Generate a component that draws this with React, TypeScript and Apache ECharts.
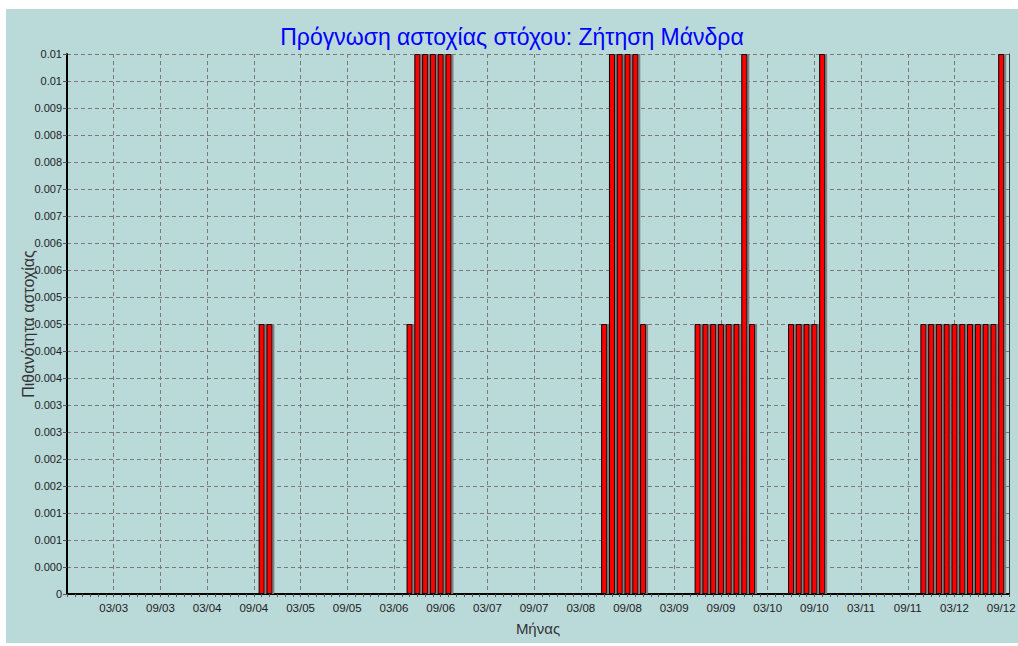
import React, { useEffect, useRef } from "react";
import * as echarts from "echarts";

const TITLE = "Πρόγνωση αστοχίας στόχου: Ζήτηση Μάνδρα";
const X_NAME = "Μήνας";
const Y_NAME = "Πιθανότητα αστοχίας";

// Monthly axis: Sep 2002 .. Oct 2012
const FIRST_YEAR = 2002;
const FIRST_MONTH = 9;
const MONTH_COUNT = 122;

// Failure probability per month, one row per year
const prob2002 = [0, 0, 0, 0]; // Sep..Dec
const prob2003 = [0, 0, 0, 0, 0, 0, 0, 0, 0, 0, 0, 0];
const prob2004 = [0, 0, 0, 0, 0, 0, 0, 0, 0, 0.005, 0.005, 0];
const prob2005 = [0, 0, 0, 0, 0, 0, 0, 0, 0, 0, 0, 0];
const prob2006 = [0, 0, 0, 0, 0.005, 0.01, 0.01, 0.01, 0.01, 0.01, 0, 0];
const prob2007 = [0, 0, 0, 0, 0, 0, 0, 0, 0, 0, 0, 0];
const prob2008 = [0, 0, 0, 0, 0, 0.005, 0.01, 0.01, 0.01, 0.01, 0.005, 0];
const prob2009 = [0, 0, 0, 0, 0, 0.005, 0.005, 0.005, 0.005, 0.005, 0.005, 0.01];
const prob2010 = [0.005, 0, 0, 0, 0, 0.005, 0.005, 0.005, 0.005, 0.01, 0, 0];
const prob2011 = [0, 0, 0, 0, 0, 0, 0, 0, 0, 0, 0.005, 0.005];
const prob2012 = [0.005, 0.005, 0.005, 0.005, 0.005, 0.005, 0.005, 0.005, 0.01, 0]; // Jan..Oct

const probabilities = [
  ...prob2002, ...prob2003, ...prob2004, ...prob2005, ...prob2006, ...prob2007,
  ...prob2008, ...prob2009, ...prob2010, ...prob2011, ...prob2012,
];

// Value-axis tick labels, bottom to top (step 0.0005)
const yTickLabels = [
  "0", "0.000", "0.001", "0.001", "0.002", "0.002", "0.003", "0.003", "0.004", "0.004",
  "0.005", "0.005", "0.006", "0.006", "0.007", "0.007", "0.008", "0.008", "0.009", "0.01", "0.01",
];
const Y_STEP = 0.0005;
const Y_MAX = 0.01;

const months: string[] = [];
for (let i = 0; i < MONTH_COUNT; i++) {
  const m0 = FIRST_MONTH - 1 + i;
  const y = FIRST_YEAR + Math.floor(m0 / 12);
  const m = (m0 % 12) + 1;
  months.push(String(m).padStart(2, "0") + "/" + String(y % 100).padStart(2, "0"));
}

const BG = "#BAD9D9";
const FONT = "'Liberation Sans', Arial, sans-serif";
const GRID_LINE = { color: "#7a7a7a", width: 1, type: [4, 3] as number[] };

export default function App() {
  const ref = useRef<HTMLDivElement>(null);

  useEffect(() => {
    if (!ref.current) return;
    const chart = echarts.init(ref.current, undefined, { renderer: "svg" });
    const showEvery6 = (i: number) => i > 0 && i % 6 === 0;
    chart.setOption({
      animation: false,
      backgroundColor: BG,
      title: {
        text: TITLE,
        left: 501,
        textAlign: "center",
        top: 11,
        textStyle: { color: "#0000ff", fontSize: 23, fontWeight: "normal", fontFamily: FONT },
      },
      grid: {
        left: 61,
        top: 45,
        width: 942,
        height: 540,
        containLabel: false,
        outerBoundsMode: "none",
      },
      xAxis: {
        type: "category",
        data: months,
        boundaryGap: false,
        name: X_NAME,
        nameLocation: "middle",
        nameGap: 27,
        nameTextStyle: { color: "#333", fontSize: 15, fontFamily: FONT },
        axisLine: { show: true, lineStyle: { color: "#000", width: 2 } },
        axisTick: { show: true, interval: 0, length: 3, lineStyle: { color: "#555" } },
        axisLabel: {
          interval: showEvery6,
          color: "#222",
          fontSize: 11.5,
          fontFamily: FONT,
          margin: 8,
        },
        splitLine: { show: true, interval: showEvery6, lineStyle: GRID_LINE },
      },
      yAxis: [
        {
          type: "value",
          min: 0,
          max: Y_MAX,
          interval: Y_STEP,
          name: Y_NAME,
          nameLocation: "middle",
          nameGap: 31,
          nameMoveOverlap: false,
          nameTextStyle: { color: "#333", fontSize: 16, fontFamily: FONT },
          axisLine: { show: true, lineStyle: { color: "#000", width: 2 } },
          axisTick: { show: true, length: 4, lineStyle: { color: "#555" } },
          axisLabel: {
            color: "#222",
            fontSize: 11,
            fontFamily: FONT,
            margin: 5,
            formatter: (v: number) => yTickLabels[Math.round(v / Y_STEP)] ?? "",
          },
          splitLine: { show: true, lineStyle: GRID_LINE },
        },
        {
          type: "value",
          min: 0,
          max: Y_MAX,
          interval: Y_STEP,
          position: "right",
          axisLine: { show: true, lineStyle: { color: "#333", width: 1 } },
          axisTick: { show: false },
          axisLabel: { show: false },
          splitLine: { show: false },
        },
      ],
      series: [
        {
          type: "bar",
          data: probabilities,
          barWidth: 6,
          itemStyle: {
            color: "#ff0000",
            borderColor: "#000",
            borderWidth: 1,
            shadowColor: "#7f7f7f",
            shadowOffsetX: 2,
            shadowOffsetY: 0,
            shadowBlur: 0,
          },
        },
      ],
    });
    return () => chart.dispose();
  }, []);

  return (
    <div
      ref={ref}
      style={{ position: "absolute", left: 6, top: 9, width: 1012, height: 634 }}
    />
  );
}
